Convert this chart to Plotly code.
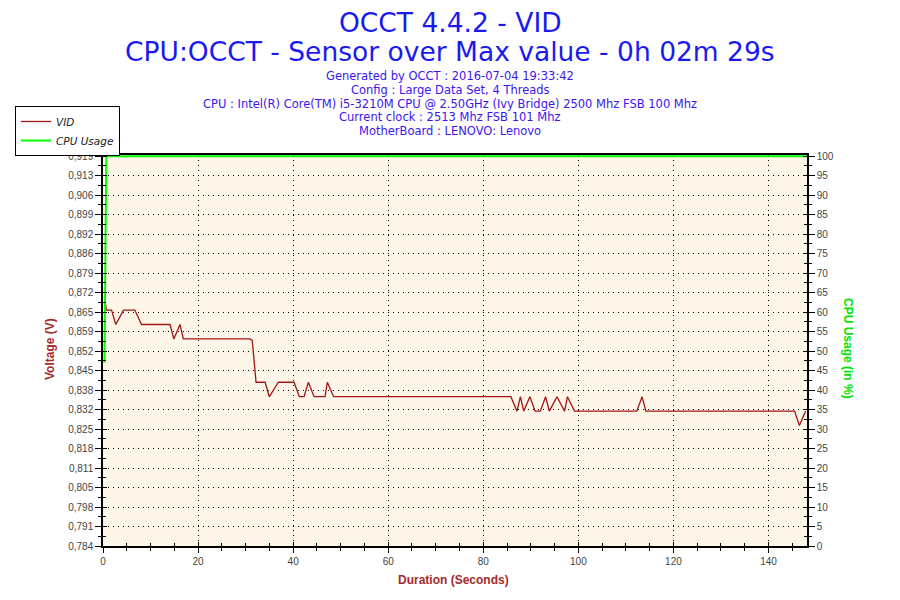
import plotly.graph_objects as go

# data
vid_time = [0.3, 0.7, 1.8, 2.7, 4.3, 6.7, 8.1, 14.1, 14.9, 16.2, 16.9, 30.9, 31.4, 31.8,
            32.2, 33.1, 34.1, 35.0, 36.9, 39.0, 40.2, 41.3, 42.3, 43.2, 44.4, 46.7, 47.2,
            48.5, 85.8, 87.1, 87.8, 88.5, 89.8, 90.9, 92.0, 93.1, 93.9, 95.5, 97.1, 97.7,
            99.2, 112.3, 113.4, 114.2, 145.0, 145.5, 146.5, 147.8]
vid_volts = [0.871, 0.866, 0.866, 0.861, 0.866, 0.866, 0.861, 0.861, 0.856, 0.861, 0.856, 0.856,
             0.8555, 0.849, 0.841, 0.841, 0.841, 0.836, 0.841, 0.841, 0.841, 0.836, 0.836, 0.841,
             0.836, 0.836, 0.841, 0.836, 0.836, 0.831, 0.836, 0.831, 0.836, 0.831, 0.831, 0.836,
             0.831, 0.836, 0.831, 0.836, 0.831, 0.831, 0.836, 0.831, 0.831, 0.831, 0.826, 0.831]

cpu_time = [0.3, 0.5, 0.7, 148.1]
cpu_usage = [47, 89, 100, 100]

volt_labels = ["0,784", "0,791", "0,798", "0,805", "0,811", "0,818", "0,825", "0,832", "0,838",
               "0,845", "0,852", "0,859", "0,865", "0,872", "0,879", "0,886", "0,892", "0,899",
               "0,906", "0,913", "0,919"]
usage_labels = [str(v) for v in range(0, 101, 5)]
time_ticks = [0, 20, 40, 60, 80, 100, 120, 140]

title1 = "OCCT 4.4.2 - VID"
title2 = "CPU:OCCT - Sensor over Max value - 0h 02m 29s"
info_lines = ["Generated by OCCT : 2016-07-04 19:33:42",
              "Config : Large Data Set, 4 Threads",
              "CPU : Intel(R) Core(TM) i5-3210M CPU @ 2.50GHz (Ivy Bridge) 2500 Mhz FSB 100 Mhz",
              "Current clock : 2513 Mhz FSB 101 Mhz",
              "MotherBoard : LENOVO: Lenovo"]

V_MIN, V_MAX = 0.7843, 0.9193
PAD = 0.003  # small headroom so the 100 % line is not clipped by the frame
X_MAX = 148.1

# the page body has an 8px margin, so the figure is drawn 8px in from the corner
OFF = 8
W, H = 900 - OFF, 600 - OFF
L, T = 103 - OFF, 155 - OFF
R, B = W - (807 - OFF), H - (546 - OFF)
PW, PH = W - L - R, H - T - B

def px(x):
    # screen pixel -> paper x
    return (x - OFF - L) / PW

def py(y):
    # screen pixel -> paper y
    return (H - B - (y - OFF)) / PH

n = len(volt_labels)
volt_ticks = [V_MIN + i * (V_MAX - V_MIN) / (n - 1) for i in range(n)]
volt_minor = [(a + b) / 2 for a, b in zip(volt_ticks[:-1], volt_ticks[1:])]
usage_ticks = [int(v) for v in usage_labels]
usage_minor = [v + 2.5 for v in usage_ticks[:-1]]
volt_range = [V_MIN, V_MAX + PAD * (V_MAX - V_MIN)]
usage_range = [0, 100 * (1 + PAD)]
time_minor = [v for v in range(5, 150, 5) if v % 20]

RED = "#a31515"
GREEN = "#00ff00"
tickfont = dict(family="Liberation Sans, Arial", size=10, color="#444444")
GRID_DASH = "1px,4px"

fig = go.Figure()
fig.add_trace(go.Scatter(x=vid_time, y=vid_volts, mode="lines", name="VID",
                         line=dict(color=RED, width=1.3), yaxis="y"))
fig.add_trace(go.Scatter(x=cpu_time, y=cpu_usage, mode="lines", name="CPU Usage",
                         line=dict(color=GREEN, width=2), yaxis="y2"))
# empty traces so the inner-tick axes get drawn
for xa, ya in [("x2", "y3"), ("x2", "y4")]:
    fig.add_trace(go.Scatter(x=[None], y=[None], xaxis=xa, yaxis=ya, showlegend=False,
                             hoverinfo="skip"))

fig.update_layout(
    width=W, height=H,
    margin=dict(l=L, r=R, t=T, b=B, autoexpand=False),
    paper_bgcolor="white",
    plot_bgcolor="#fdf6e9",
    showlegend=True,
    legend=dict(x=px(15), y=py(106), xanchor="left", yanchor="top",
                bgcolor="white", bordercolor="black", borderwidth=1,
                font=dict(family="DejaVu Sans", size=10.5, color="#222222", style="italic"),
                tracegroupgap=0, itemwidth=30),
    xaxis=dict(range=[0, X_MAX], tickvals=time_ticks, ticks="outside", ticklen=5,
               tickcolor="black", showline=True, linecolor="black", linewidth=1.5,
               mirror=True, showgrid=True, gridcolor="black", griddash=GRID_DASH, gridwidth=1,
               zeroline=False, tickfont=tickfont, layer="below traces",
               minor=dict(tickvals=time_minor, ticks="outside", ticklen=3, tickcolor="black")),
    xaxis2=dict(range=[0, X_MAX], overlaying="x", tickvals=time_ticks, ticks="inside",
                ticklen=4, tickcolor="black", showticklabels=False, showgrid=False,
                zeroline=False, showline=False,
                minor=dict(tickvals=time_minor, ticks="inside", ticklen=3, tickcolor="black")),
    yaxis=dict(range=volt_range, tickvals=volt_ticks, ticktext=volt_labels,
               ticks="outside", ticklen=6, tickcolor="black", showline=True,
               linecolor="black", linewidth=1.5, showgrid=True, gridcolor="black",
               griddash=GRID_DASH, gridwidth=1, zeroline=False, tickfont=tickfont,
               layer="below traces",
               minor=dict(tickvals=volt_minor, ticks="outside", ticklen=3, tickcolor="black")),
    yaxis2=dict(range=usage_range, overlaying="y", side="right", tickvals=usage_ticks,
                ticktext=usage_labels, ticks="outside", ticklen=6, tickcolor="black",
                showline=True, linecolor="black", linewidth=1.5, showgrid=False,
                zeroline=False, tickfont=tickfont, layer="below traces",
                minor=dict(tickvals=usage_minor, ticks="outside", ticklen=3,
                           tickcolor="black")),
    yaxis3=dict(range=volt_range, overlaying="y", side="left", tickvals=volt_ticks,
                ticks="inside", ticklen=4, tickcolor="black", showticklabels=False,
                showgrid=False, zeroline=False, showline=False,
                minor=dict(tickvals=volt_minor, ticks="inside", ticklen=3, tickcolor="black")),
    yaxis4=dict(range=usage_range, overlaying="y", side="right", tickvals=usage_ticks,
                ticks="inside", ticklen=4, tickcolor="black", showticklabels=False,
                showgrid=False, zeroline=False, showline=False,
                minor=dict(tickvals=usage_minor, ticks="inside", ticklen=3,
                           tickcolor="black")),
)

ann = []
ann.append(dict(text=title1, x=px(450), y=py(22), font=dict(size=26.5, color="#1a1af0")))
ann.append(dict(text=title2, x=px(450), y=py(51), font=dict(size=26.5, color="#1a1af0")))
for i, line in enumerate(info_lines):
    ann.append(dict(text=line, x=px(450), y=py(76 + i * 13.8),
                    font=dict(size=11.5, color="#3c14f0")))
ann.append(dict(text="<b>Voltage (V)</b>", x=px(50), y=py(349), textangle=-90,
                font=dict(family="Liberation Sans, Arial", size=12, color="#a52a2a")))
ann.append(dict(text="<b>Duration (Seconds)</b>", x=px(453), y=py(580),
                font=dict(family="Liberation Sans, Arial", size=12, color="#a52a2a")))
ann.append(dict(text="<b>CPU Usage (in %)</b>", x=px(848), y=py(348), textangle=90,
                font=dict(family="Liberation Sans, Arial", size=12, color="#00e600")))
for a in ann:
    a.update(xref="paper", yref="paper", showarrow=False, xanchor="center", yanchor="middle")
    a["font"].setdefault("family", "DejaVu Sans")
fig.update_layout(annotations=ann)

fig.write_html("out.html")
